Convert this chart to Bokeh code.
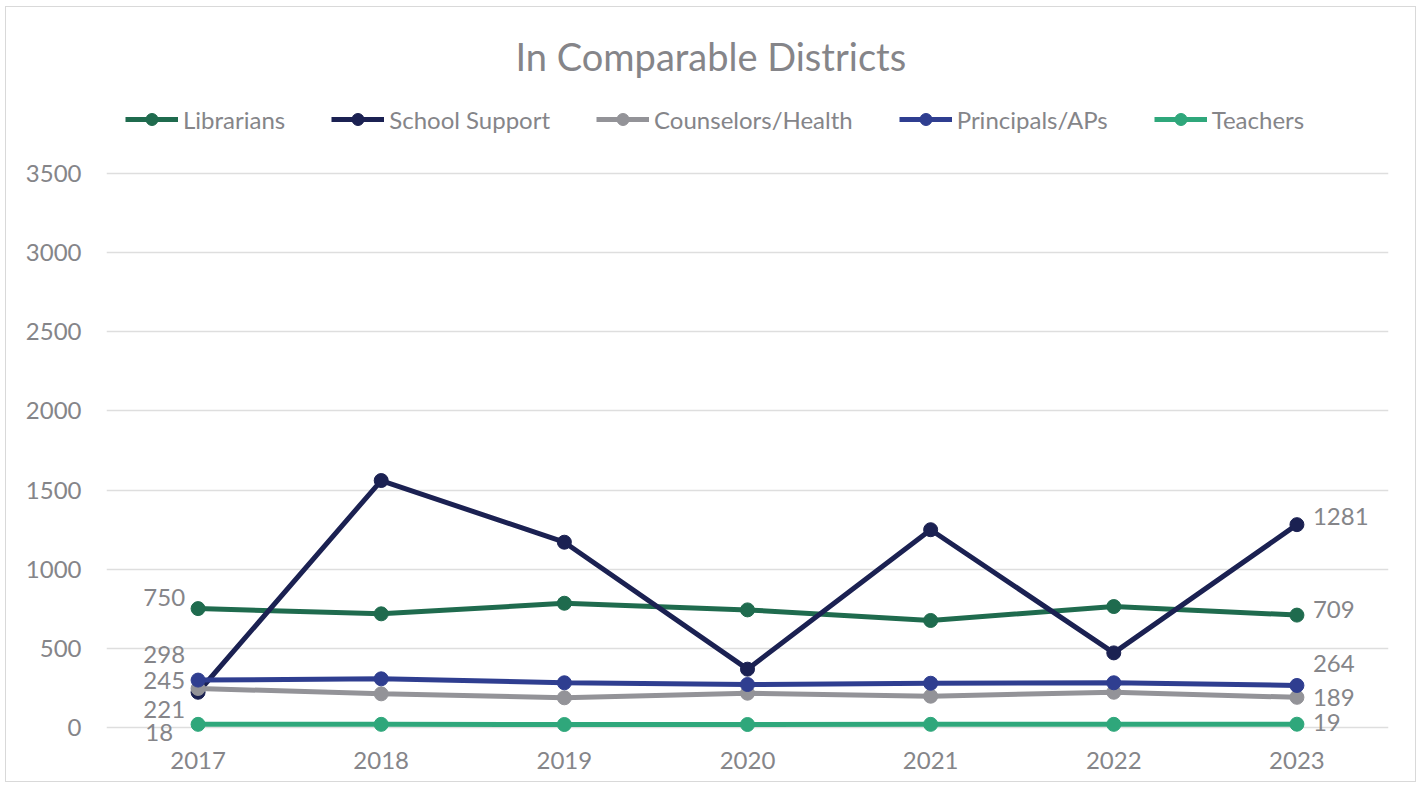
from bokeh.plotting import figure
from bokeh.models import ColumnDataSource, Legend, LegendItem, FactorRange, FixedTicker
from bokeh.core.properties import value
from bokeh.embed import file_html
from bokeh.resources import INLINE

# ---------------- data ----------------
years = ["2017", "2018", "2019", "2020", "2021", "2022", "2023"]
series_names = ["Librarians", "School Support", "Counselors/Health", "Principals/APs", "Teachers"]
librarians = [750, 717, 784, 742, 675, 763, 709]
school_support = [221, 1560, 1170, 367, 1249, 470, 1281]
counselors_health = [245, 211, 186, 215, 196, 221, 189]
principals_aps = [298, 306, 281, 270, 278, 281, 264]
teachers = [18, 18, 17, 17, 18, 18, 19]
y_ticks = [0, 500, 1000, 1500, 2000, 2500, 3000, 3500]
title_text = "In Comparable Districts"

# ---------------- style / layout ----------------
FONT = "Lato"
GRAY = "#858589"
colors = ["#1f6b4e", "#1b2152", "#939398", "#2f3e90", "#2fa77b"]
series = [librarians, school_support, counselors_health, principals_aps, teachers]

W, H = 1411, 776
F_LEFT, F_RIGHT, F_TOP, F_BOTTOM = 100, 1382, 85, 737   # frame edges in canvas px
ZERO_PX, TOP_TICK_PX = 719.7, 166.3                       # canvas px of y=0 and y=3500
upp = (y_ticks[-1] - y_ticks[0]) / (ZERO_PX - TOP_TICK_PX)  # units per pixel
y_start = -(F_BOTTOM - ZERO_PX) * upp
y_end = (ZERO_PX - F_TOP) * upp

# label offsets (screen px): first-point labels left, last-point labels right
first_dx = [-13, -13, -13, -13, -25]
first_dy = [-11, 17, -8, -26, 8]
last_dx = [16, 16, 16, 16, 16]
last_dy = [-6, -8, 0, -22, -2]

p = figure(width=W, height=H, output_backend="svg", toolbar_location=None,
           x_range=FactorRange(*years, range_padding=0),
           y_range=(y_start, y_end),
           min_border_left=F_LEFT, min_border_right=W - F_RIGHT,
           min_border_top=F_TOP, min_border_bottom=H - F_BOTTOM)
p.styles = {"border": "1px solid #d9d9d9", "margin-left": "5px", "margin-top": "6px"}
p.outline_line_color = None
p.background_fill_color = "white"

p.title.text = title_text
p.title.align = "left"
p.title.offset = 409
p.title.standoff = 27
p.title.text_font = FONT
p.title.text_font_size = "38px"
p.title.text_font_style = "normal"
p.title.text_color = GRAY

p.xgrid.grid_line_color = None
p.yaxis.ticker = FixedTicker(ticks=y_ticks)
p.ygrid.ticker = FixedTicker(ticks=y_ticks)
p.ygrid.grid_line_color = "#dedede"
p.ygrid.grid_line_width = 1.5

for ax in (p.xaxis, p.yaxis):
    ax.axis_line_color = None
    ax.major_tick_line_color = None
    ax.minor_tick_line_color = None
    ax.major_label_text_font = FONT
    ax.major_label_text_font_size = "24px"
    ax.major_label_text_color = GRAY
p.yaxis.major_label_standoff = 19
p.xaxis.major_label_standoff = 1

items = []
for name, vals, c in zip(series_names, series, colors):
    src = ColumnDataSource(dict(x=years, y=vals))
    ln = p.line("x", "y", source=src, line_color=c, line_width=5)
    sc = p.scatter("x", "y", source=src, size=14, fill_color=c, line_color=c)
    items.append(LegendItem(label=name, renderers=[ln, sc]))

legend = Legend(items=items, orientation="horizontal", location=(19, 610),
                label_text_font=FONT, label_text_font_size="24px", label_text_color=GRAY,
                glyph_width=53, glyph_height=30, label_standoff=5, spacing=46,
                padding=0, margin=0, border_line_color=None, background_fill_alpha=0)
p.add_layout(legend, "center")

# data labels for first and last points
lab = dict(x=[], y=[], text=[], dx=[], dy=[], align=[])
for i, vals in enumerate(series):
    lab["x"].append(years[0]); lab["y"].append(vals[0]); lab["text"].append(str(vals[0]))
    lab["dx"].append(first_dx[i]); lab["dy"].append(first_dy[i]); lab["align"].append("right")
    lab["x"].append(years[-1]); lab["y"].append(vals[-1]); lab["text"].append(str(vals[-1]))
    lab["dx"].append(last_dx[i]); lab["dy"].append(last_dy[i]); lab["align"].append("left")
lsrc = ColumnDataSource(lab)
p.text("x", "y", text="text", source=lsrc, x_offset="dx", y_offset="dy",
       text_align="align", text_baseline="middle", text_font=value(FONT),
       text_font_size="24px", text_color=GRAY)

open("out.html", "w").write(file_html(p, INLINE))
